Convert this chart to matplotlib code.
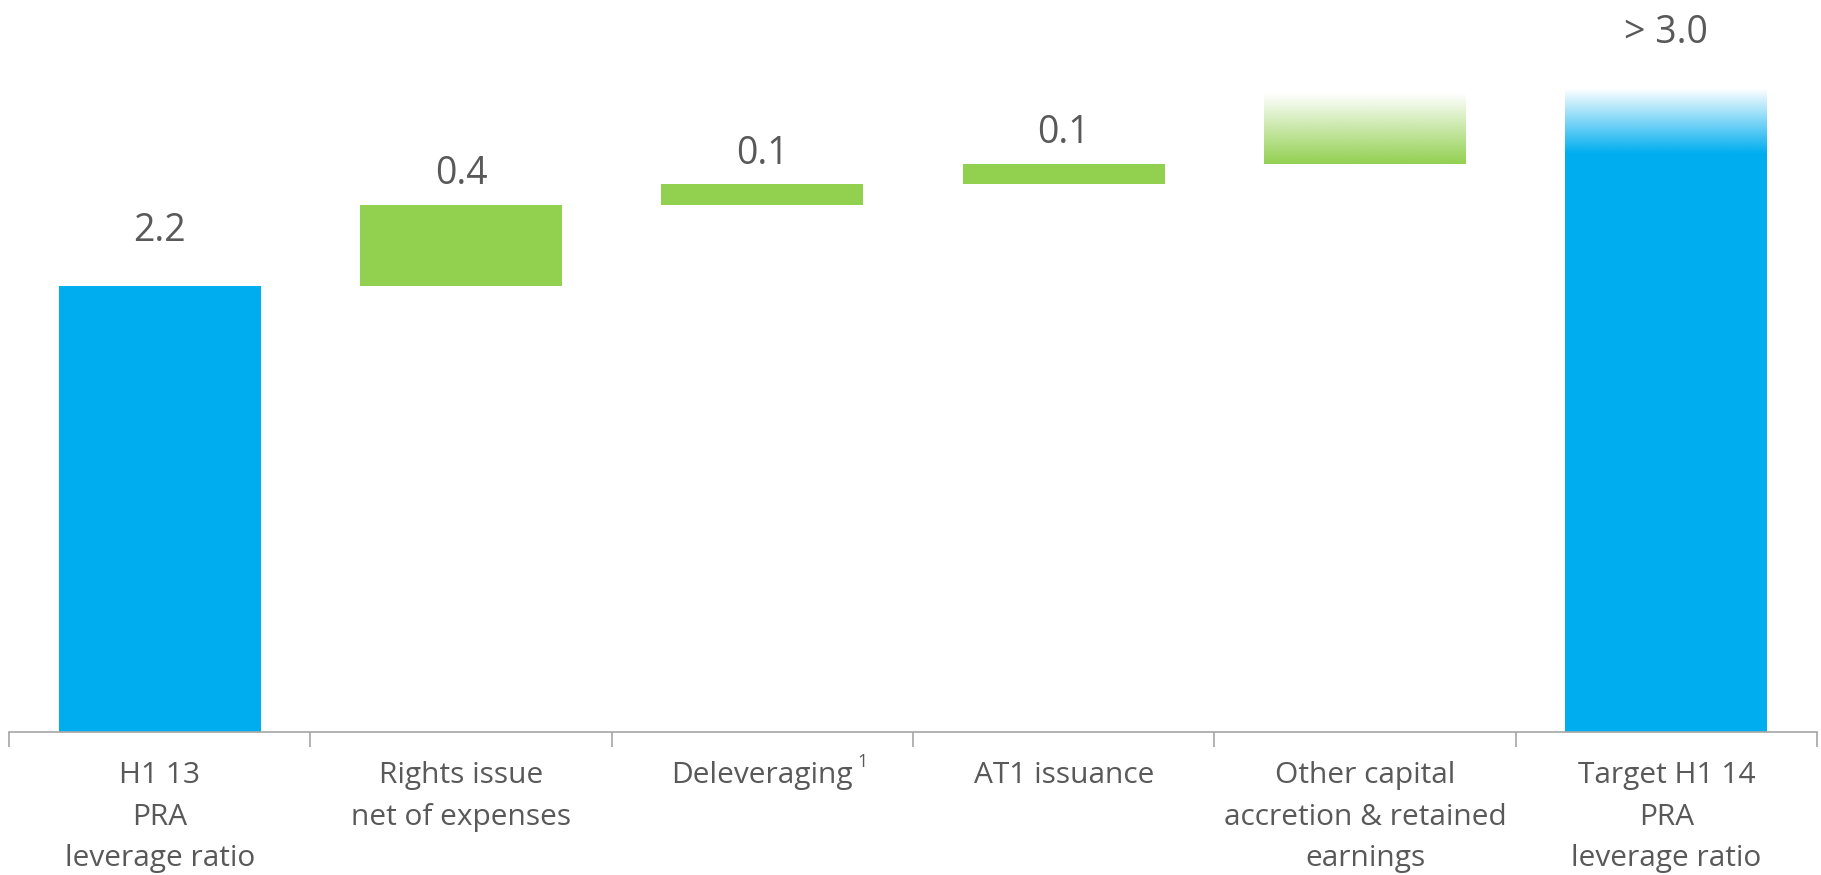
"""Leverage ratio bridge: H1 13 PRA leverage ratio to H1 14 target."""
import matplotlib.pyplot as plt
import numpy as np
from matplotlib.colors import to_rgb

# ---- data ----
categories = ["H1 13\nPRA\nleverage ratio",
              "Rights issue\nnet of expenses",
              "Deleveraging",
              "AT1 issuance",
              "Other capital\naccretion & retained\nearnings",
              "Target H1 14\nPRA\nleverage ratio"]
footnotes = ["", "", "1", "", "", ""]
kinds = ["total", "delta", "delta", "delta", "fade", "target"]
start = 2.2
deltas = [0.4, 0.1, 0.1, 0.35]       # last one is the faded, unlabelled step
target = 3.18                          # drawn height of the target bar
value_labels = ["2.2", "0.4", "0.1", "0.1", "", "> 3.0"]
target_solid = 2.86                    # gradient on target bar ends here

BLUE = "#00aeef"
GREEN = "#92d050"
TEXT = "#595959"
AXIS = "#a6a6a6"

plt.rcParams["font.family"] = ["Open Sans", "DejaVu Sans"]

# bottoms / tops of the waterfall
bottoms, tops = [0.0], [start]
level = start
for d in deltas:
    bottoms.append(level)
    level += d
    tops.append(level)
bottoms.append(0.0)
tops.append(target)

fig = plt.figure(figsize=(18.21, 8.75), dpi=100)
ax = fig.add_axes([0.005, 0.1637, 0.9928, 0.834])

x = np.arange(len(categories))
w = 0.67


def gradient_bar(xc, y0, y1, color, solid_below=None):
    """Bar fading from transparent at y1 to opaque at y0 (or solid_below)."""
    n = 256
    ys = np.linspace(y0, y1, n)
    lo = y0 if solid_below is None else solid_below
    a = np.clip((y1 - ys) / (y1 - lo), 0, 1)
    img = np.zeros((n, 1, 4))
    img[:, 0, :3] = to_rgb(color)
    img[:, 0, 3] = a
    ax.imshow(img, extent=(xc - w / 2, xc + w / 2, y0, y1), origin="lower",
              aspect="auto", interpolation="bilinear", zorder=2)


for i, k in enumerate(kinds):
    if k == "total":
        ax.bar(x[i], tops[i] - bottoms[i], bottom=bottoms[i], width=w,
               color=BLUE, zorder=2)
    elif k == "delta":
        ax.bar(x[i], tops[i] - bottoms[i], bottom=bottoms[i], width=w,
               color=GREEN, zorder=2)
    elif k == "fade":
        gradient_bar(x[i], bottoms[i], tops[i], GREEN)
    else:
        gradient_bar(x[i], bottoms[i], tops[i], BLUE, solid_below=target_solid)

    if value_labels[i]:
        off = 25.5 if k in ("total", "target") else 8.5
        ax.annotate(value_labels[i], (x[i], tops[i]), xytext=(0, off),
                    textcoords="offset points", ha="center", va="bottom",
                    fontsize=27, color=TEXT)

ax.set_xlim(-0.5, len(categories) - 0.5)
ax.set_ylim(0, 3.6)
ax.set_yticks([])
for s in ("left", "right", "top"):
    ax.spines[s].set_visible(False)
ax.spines["bottom"].set_color(AXIS)
ax.spines["bottom"].set_linewidth(1.2)

ax.set_xticks(x)
ax.set_xticklabels(categories, fontsize=21.5, color=TEXT, linespacing=1.58)
ax.tick_params(axis="x", which="major", length=0, pad=21)
ax.set_xticks(np.arange(-0.5, len(categories)), minor=True)
ax.tick_params(axis="x", which="minor", length=11, width=1.2, color=AXIS)

# superscript footnote markers next to the tick labels
fig.canvas.draw()
for lbl, note in zip(ax.get_xticklabels(), footnotes):
    if note:
        ax.annotate(note, xy=(1, 1), xycoords=lbl, xytext=(3, 6),
                    textcoords="offset points", ha="left", va="top",
                    fontsize=13, color=TEXT)

fig.savefig("out.png", dpi=100)
